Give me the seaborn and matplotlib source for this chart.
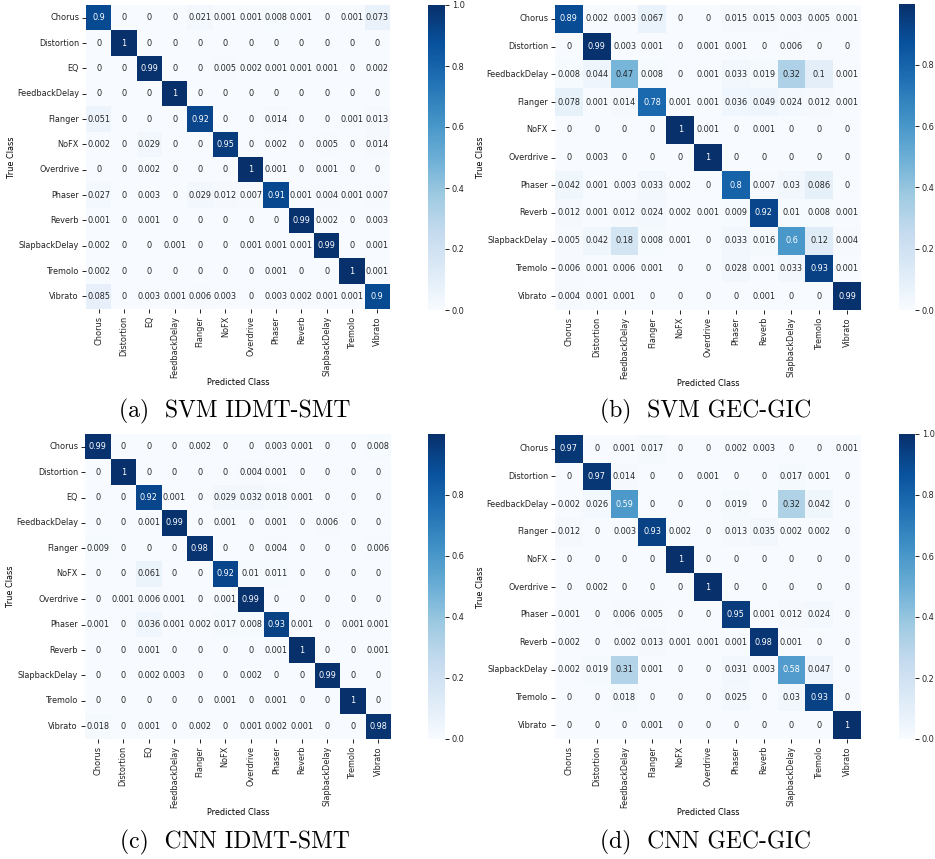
import matplotlib
matplotlib.use("Agg")
import matplotlib.pyplot as plt
import seaborn as sns
import pandas as pd

idmt_classes = ["Chorus", "Distortion", "EQ", "FeedbackDelay", "Flanger", "NoFX",
                "Overdrive", "Phaser", "Reverb", "SlapbackDelay", "Tremolo", "Vibrato"]
gec_classes = ["Chorus", "Distortion", "FeedbackDelay", "Flanger", "NoFX", "Overdrive",
               "Phaser", "Reverb", "SlapbackDelay", "Tremolo", "Vibrato"]

# Row-normalised confusion matrices (rows: true class, columns: predicted class)
svm_idmt = [
    [0.9, 0, 0, 0, 0.021, 0.001, 0.001, 0.008, 0.001, 0, 0.001, 0.073],
    [0, 1, 0, 0, 0, 0, 0, 0, 0, 0, 0, 0],
    [0, 0, 0.99, 0, 0, 0.005, 0.002, 0.001, 0.001, 0.001, 0, 0.002],
    [0, 0, 0, 1, 0, 0, 0, 0, 0, 0, 0, 0],
    [0.051, 0, 0, 0, 0.92, 0, 0, 0.014, 0, 0, 0.001, 0.013],
    [0.002, 0, 0.029, 0, 0, 0.95, 0, 0.002, 0, 0.005, 0, 0.014],
    [0, 0, 0.002, 0, 0, 0, 1, 0.001, 0, 0.001, 0, 0],
    [0.027, 0, 0.003, 0, 0.029, 0.012, 0.007, 0.91, 0.001, 0.004, 0.001, 0.007],
    [0.001, 0, 0.001, 0, 0, 0, 0, 0, 0.99, 0.002, 0, 0.003],
    [0.002, 0, 0, 0.001, 0, 0, 0.001, 0.001, 0.001, 0.99, 0, 0.001],
    [0.002, 0, 0, 0, 0, 0, 0, 0.001, 0, 0, 1, 0.001],
    [0.085, 0, 0.003, 0.001, 0.006, 0.003, 0, 0.003, 0.002, 0.001, 0.001, 0.9],
]

svm_gec = [
    [0.89, 0.002, 0.003, 0.067, 0, 0, 0.015, 0.015, 0.003, 0.005, 0.001],
    [0, 0.99, 0.003, 0.001, 0, 0.001, 0.001, 0, 0.006, 0, 0],
    [0.008, 0.044, 0.47, 0.008, 0, 0.001, 0.033, 0.019, 0.32, 0.1, 0.001],
    [0.078, 0.001, 0.014, 0.78, 0.001, 0.001, 0.036, 0.049, 0.024, 0.012, 0.001],
    [0, 0, 0, 0, 0.998, 0.001, 0, 0.001, 0, 0, 0],
    [0, 0.003, 0, 0, 0, 0.997, 0, 0, 0, 0, 0],
    [0.042, 0.001, 0.003, 0.033, 0.002, 0, 0.8, 0.007, 0.03, 0.086, 0],
    [0.012, 0.001, 0.012, 0.024, 0.002, 0.001, 0.009, 0.92, 0.01, 0.008, 0.001],
    [0.005, 0.042, 0.18, 0.008, 0.001, 0, 0.033, 0.016, 0.6, 0.12, 0.004],
    [0.006, 0.001, 0.006, 0.001, 0, 0, 0.028, 0.001, 0.033, 0.93, 0.001],
    [0.004, 0.001, 0.001, 0, 0, 0, 0, 0.001, 0, 0, 0.99],
]

cnn_idmt = [
    [0.99, 0, 0, 0, 0.002, 0, 0, 0.003, 0.001, 0, 0, 0.008],
    [0, 0.996, 0, 0, 0, 0, 0.004, 0.001, 0, 0, 0, 0],
    [0, 0, 0.92, 0.001, 0, 0.029, 0.032, 0.018, 0.001, 0, 0, 0],
    [0, 0, 0.001, 0.99, 0, 0.001, 0, 0.001, 0, 0.006, 0, 0],
    [0.009, 0, 0, 0, 0.98, 0, 0, 0.004, 0, 0, 0, 0.006],
    [0, 0, 0.061, 0, 0, 0.92, 0.01, 0.011, 0, 0, 0, 0],
    [0, 0.001, 0.006, 0.001, 0, 0.001, 0.99, 0, 0, 0, 0, 0],
    [0.001, 0, 0.036, 0.001, 0.002, 0.017, 0.008, 0.93, 0.001, 0, 0.001, 0.001],
    [0, 0, 0.001, 0, 0, 0, 0, 0.001, 0.997, 0, 0, 0.001],
    [0, 0, 0.002, 0.003, 0, 0, 0.002, 0, 0, 0.99, 0, 0],
    [0, 0, 0, 0, 0, 0.001, 0, 0.001, 0, 0, 0.998, 0],
    [0.018, 0, 0.001, 0, 0.002, 0, 0.001, 0.002, 0.001, 0, 0, 0.98],
]

cnn_gec = [
    [0.97, 0, 0.001, 0.017, 0, 0, 0.002, 0.003, 0, 0, 0.001],
    [0, 0.97, 0.014, 0, 0, 0.001, 0, 0, 0.017, 0.001, 0],
    [0.002, 0.026, 0.59, 0, 0, 0, 0.019, 0, 0.32, 0.042, 0],
    [0.012, 0, 0.003, 0.93, 0.002, 0, 0.013, 0.035, 0.002, 0.002, 0],
    [0, 0, 0, 0, 1, 0, 0, 0, 0, 0, 0],
    [0, 0.002, 0, 0, 0, 1, 0, 0, 0, 0, 0],
    [0.001, 0, 0.006, 0.005, 0, 0, 0.95, 0.001, 0.012, 0.024, 0],
    [0.002, 0, 0.002, 0.013, 0.001, 0.001, 0.001, 0.98, 0.001, 0, 0],
    [0.002, 0.019, 0.31, 0.001, 0, 0, 0.031, 0.003, 0.58, 0.047, 0],
    [0, 0, 0.018, 0, 0, 0, 0.025, 0, 0.03, 0.93, 0],
    [0, 0, 0, 0.001, 0, 0, 0, 0, 0, 0, 1],
]

captions = ["(a)  SVM IDMT-SMT", "(b)  SVM GEC-GIC", "(c)  CNN IDMT-SMT", "(d)  CNN GEC-GIC"]

W, H = 935, 859
FS = 5.9


def rect(x0, y0, x1, y1):
    """Pixel box (top-left origin) -> figure fraction [left, bottom, width, height]."""
    return [x0 / W, 1 - y1 / H, (x1 - x0) / W, (y1 - y0) / H]


panels = [
    (svm_idmt, idmt_classes, (86, 5, 390, 309), (428, 5, 445, 310), (235, 411)),
    (svm_gec, gec_classes, (555, 5, 861, 310), (899, 4, 915, 310), (706, 411)),
    (cnn_idmt, idmt_classes, (85, 434, 391, 739), (428, 434, 445, 739), (235, 842)),
    (cnn_gec, gec_classes, (555, 435, 861, 739), (899, 434, 915, 739), (706, 842)),
]

fig = plt.figure(figsize=(W / 100, H / 100), dpi=100)

for (mat, classes, hbox, cbox, cap_xy), caption in zip(panels, captions):
    df = pd.DataFrame(mat, index=classes, columns=classes)
    ax = fig.add_axes(rect(*hbox))
    cax = fig.add_axes(rect(*cbox))
    sns.heatmap(df, ax=ax, cbar_ax=cax, cmap="Blues", annot=True,
                annot_kws={"size": FS}, xticklabels=classes, yticklabels=classes)
    ax.set_xlabel("Predicted Class", fontsize=FS, labelpad=0)
    ax.set_ylabel("True Class", fontsize=FS, labelpad=0.5)
    ax.tick_params(axis="both", labelsize=FS, length=3, width=0.6, pad=2,
                   labelcolor="#222222")
    plt.setp(ax.get_xticklabels(), rotation=90)
    plt.setp(ax.get_yticklabels(), rotation=0)
    cax.tick_params(labelsize=FS, length=3, width=0.6, pad=2, labelcolor="#222222")
    fig.text(cap_xy[0] / W, 1 - cap_xy[1] / H, caption, ha="center", va="center",
             fontsize=17, family="cmr10")

fig.savefig("out.png", dpi=100)
